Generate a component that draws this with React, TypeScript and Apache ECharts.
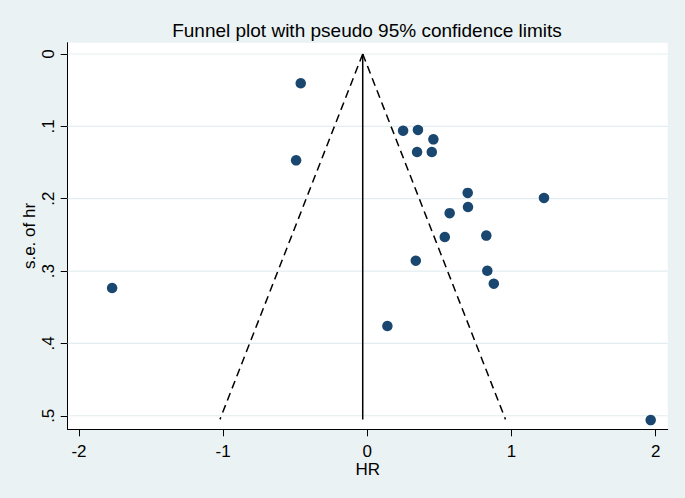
import React, { useEffect, useRef } from "react";
import * as echarts from "echarts";

// Study estimates (log HR) and their standard errors
const hrValues = [
  -0.462, -0.494, -1.77, 0.248, 0.351, 0.458, 0.345, 0.447, 0.696, 0.698,
  1.225, 0.571, 0.537, 0.825, 0.336, 0.832, 0.877, 0.139, 1.965,
];
const seValues = [
  0.0405, 0.147, 0.3235, 0.106, 0.105, 0.118, 0.1355, 0.1355, 0.192, 0.2115,
  0.199, 0.22, 0.253, 0.251, 0.2857, 0.2996, 0.3175, 0.376, 0.506,
];

// Pooled estimate line and pseudo 95% confidence limits
const pooledX = [-0.032, -0.032];
const pooledY = [0, 0.505];
const leftLimitX = [-0.032, -1.022];
const rightLimitX = [-0.032, 0.958];
const limitY = [0, 0.505];

// Tick values
const xTicks = [-2, -1, 0, 1, 2];
const yTicks = [0, 0.1, 0.2, 0.3, 0.4, 0.5];

const X_MIN = -2.078;
const X_MAX = 2.083;

const FONT = "Liberation Sans, Arial, sans-serif";

export default function App() {
  const ref = useRef<HTMLDivElement>(null);

  useEffect(() => {
    if (!ref.current) return;
    const chart = echarts.init(ref.current, null, { renderer: "svg" });
    const scatterData = hrValues.map((v, i) => [v, seValues[i]]);
    const pairs = (xs: number[], ys: number[]) => xs.map((x, i) => [x, ys[i]]);

    const gridSeries = yTicks.map((t) => ({
      type: "line",
      data: [
        [X_MIN, t],
        [X_MAX, t],
      ],
      symbol: "none",
      silent: true,
      z: 1,
      lineStyle: { color: "#E3EDEF", width: 1.2, type: "solid" },
    }));

    chart.setOption({
      animation: false,
      backgroundColor: "#EAF2F3",
      title: {
        text: "Funnel plot with pseudo 95% confidence limits",
        left: 362,
        textAlign: "center",
        top: 16,
        textStyle: { fontFamily: FONT, fontSize: 19, fontWeight: "normal", color: "#000" },
      },
      grid: {
        left: 67.7,
        right: 17.3,
        top: 42.7,
        bottom: 68.7,
        show: true,
        backgroundColor: "#FFFFFF",
        borderWidth: 0,
      },
      xAxis: {
        type: "value",
        min: X_MIN,
        max: X_MAX,
        name: "HR",
        nameLocation: "middle",
        nameGap: 32,
        nameMoveOverlap: false,
        nameTextStyle: { fontFamily: FONT, fontSize: 17, color: "#000", lineHeight: 17 },
        axisLine: { show: true, onZero: false, lineStyle: { color: "#000", width: 1 } },
        axisTick: { show: true, length: 7, customValues: xTicks, lineStyle: { color: "#000" } },
        axisLabel: {
          customValues: xTicks,
          margin: 14,
          fontFamily: FONT,
          fontSize: 17,
          lineHeight: 17,
          color: "#000",
          formatter: (v: number) => String(v),
        },
        splitLine: { show: false },
      },
      yAxis: {
        type: "value",
        inverse: true,
        min: -0.0156,
        max: 0.5187,
        name: "s.e. of hr",
        nameLocation: "middle",
        nameRotate: 90,
        nameGap: 30,
        nameMoveOverlap: false,
        nameTextStyle: { fontFamily: FONT, fontSize: 17, color: "#000" },
        axisLine: { show: true, onZero: false, lineStyle: { color: "#000", width: 1 } },
        axisTick: { show: true, length: 7, customValues: yTicks, lineStyle: { color: "#000" } },
        axisLabel: {
          customValues: yTicks,
          rotate: 90,
          margin: 11,
          fontFamily: FONT,
          fontSize: 17,
          color: "#000",
          formatter: (v: number) =>
            v === 0 ? "0" : String(Math.round(v * 10) / 10).replace(/^0/, ""),
        },
        splitLine: { show: false },
      },
      series: [
        ...gridSeries,
        {
          type: "line",
          data: pairs(pooledX, pooledY),
          symbol: "none",
          silent: true,
          z: 3,
          lineStyle: { color: "#000", width: 1.5, type: "solid" },
        },
        {
          type: "line",
          data: pairs(leftLimitX, limitY),
          symbol: "none",
          silent: true,
          z: 3,
          lineStyle: { color: "#000", width: 1.5, type: [8, 5] },
        },
        {
          type: "line",
          data: pairs(rightLimitX, limitY),
          symbol: "none",
          silent: true,
          z: 3,
          lineStyle: { color: "#000", width: 1.5, type: [8, 5] },
        },
        {
          type: "scatter",
          data: scatterData,
          symbol: "circle",
          symbolSize: 10.5,
          z: 5,
          itemStyle: { color: "#1A476F", opacity: 1 },
        },
      ],
    });

    return () => chart.dispose();
  }, []);

  return (
    <div
      ref={ref}
      style={{ position: "fixed", left: 0, top: 0, width: 685, height: 498 }}
    />
  );
}
